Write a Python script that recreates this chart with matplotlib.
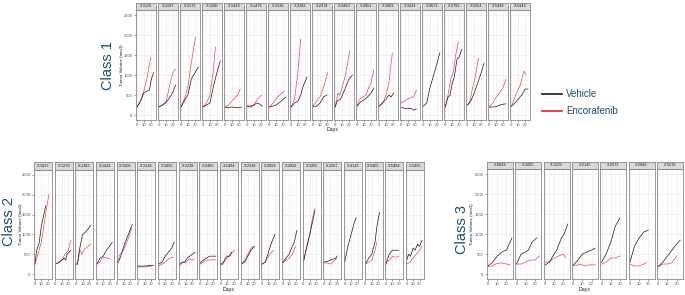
import matplotlib
matplotlib.use("Agg")
import matplotlib.pyplot as plt

plt.rcParams["font.family"] = ["Liberation Sans", "DejaVu Sans"]

# ---------------- data (days, tumor volume mm3) ----------------
class1_models = ["X-1119", "X-1187", "X-1173", "X-1290", "X-1443", "X-1476", "X-1526", "X-2182", "X-2374",
                 "X-2463", "X-2851", "X-3093", "X-3224", "X-3671", "X-3792", "X-5254", "X-5438", "X-5446"]
class1_vehicle = {
    "X-1119": ([0, 5, 10, 15, 18, 21, 24], [200, 330, 550, 600, 620, 900, 1060]),
    "X-1187": ([0, 5, 12, 18, 21, 24], [200, 250, 350, 500, 600, 750]),
    "X-1173": ([0, 8, 10, 15, 20, 25], [200, 450, 500, 900, 1050, 1200]),
    "X-1290": ([0, 5, 10, 15, 20, 25], [200, 250, 300, 700, 1050, 1350]),
    "X-1443": ([0, 5, 10, 15, 20, 24], [200, 180, 200, 190, 180, 200]),
    "X-1476": ([0, 5, 10, 14, 18, 22], [220, 200, 250, 300, 280, 220]),
    "X-1526": ([0, 5, 10, 14, 18, 24], [200, 220, 250, 300, 350, 450]),
    "X-2182": ([0, 5, 10, 14, 17, 23], [200, 300, 350, 500, 700, 950]),
    "X-2374": ([0, 5, 10, 15, 20], [220, 220, 300, 450, 500]),
    "X-2463": ([0, 3, 8, 13, 20, 25], [200, 350, 400, 600, 900, 1000]),
    "X-2851": ([0, 5, 10, 15, 20, 24], [225, 330, 380, 450, 550, 670]),
    "X-3093": ([0, 5, 10, 14, 17, 21], [225, 300, 400, 500, 450, 550]),
    "X-3224": ([0, 5, 10, 15, 18, 22], [190, 170, 160, 160, 120, 150]),
    "X-3671": ([0, 5, 10, 15, 20, 24], [225, 300, 700, 1000, 1300, 1560]),
    "X-3792": ([0, 4, 7, 10, 13, 17, 20, 24], [200, 450, 500, 800, 950, 1400, 1450, 1650]),
    "X-5254": ([0, 5, 10, 15, 20, 24], [250, 350, 550, 800, 1050, 1290]),
    "X-5438": ([0, 5, 10, 15, 20, 24], [200, 200, 210, 250, 270, 280]),
    "X-5446": ([0, 5, 10, 15, 20, 24], [220, 300, 400, 500, 650, 650]),
}
class1_encorafenib = {
    "X-1119": ([0, 5, 10, 15, 20], [200, 350, 600, 950, 1450]),
    "X-1187": ([0, 5, 10, 15, 20, 24], [200, 250, 300, 700, 1050, 1150]),
    "X-1173": ([0, 5, 10, 15, 21], [200, 400, 700, 1300, 1950]),
    "X-1290": ([0, 5, 10, 15, 18], [200, 300, 500, 1100, 1700]),
    "X-1443": ([0, 5, 10, 15, 18, 22], [200, 250, 350, 450, 480, 650]),
    "X-1476": ([0, 5, 10, 15, 18, 21], [230, 230, 250, 400, 450, 500]),
    "X-1526": ([0, 6, 12, 17, 22], [200, 300, 450, 520, 600]),
    "X-2182": ([0, 5, 10, 14], [200, 400, 1100, 1900]),
    "X-2374": ([0, 5, 10, 15, 21], [220, 350, 450, 700, 1050]),
    "X-2463": ([0, 4, 7, 10, 15, 21], [200, 550, 500, 700, 1000, 1600]),
    "X-2851": ([0, 3, 8, 13, 17, 20, 24], [225, 380, 450, 500, 700, 800, 1120]),
    "X-3093": ([0, 5, 10, 14, 17, 19], [225, 300, 500, 800, 1250, 1550]),
    "X-3224": ([0, 5, 10, 15, 18, 22], [300, 350, 400, 450, 450, 625]),
    "X-3671": ([], []),
    "X-3792": ([0, 4, 8, 12, 15, 19], [200, 500, 900, 1100, 1500, 1830]),
    "X-5254": ([0, 3, 8, 12, 16], [250, 300, 700, 1000, 1420]),
    "X-5438": ([0, 5, 10, 15, 20, 24], [200, 300, 450, 550, 700, 890]),
    "X-5446": ([0, 5, 10, 13, 18, 21], [220, 450, 650, 750, 1100, 1015]),
}

class2_models = ["X-1027", "X-1276", "X-1383", "X-1441", "X-1506", "X-1538", "X-1855", "X-2239", "X-2483",
                 "X-2484", "X-2538", "X-2659", "X-2822", "X-3205", "X-3267", "X-4145", "X-5405", "X-5494",
                 "X-5495"]
class2_vehicle = {
    "X-1027": ([0, 3, 7, 10, 14, 17], [250, 600, 800, 1200, 1500, 1720]),
    "X-1276": ([0, 5, 10, 14, 16, 18, 21, 24], [270, 280, 350, 400, 350, 500, 550, 600]),
    "X-1383": ([0, 2, 5, 10, 14, 17, 23], [250, 250, 600, 1000, 1050, 1100, 1233]),
    "X-1441": ([0, 5, 10, 15, 20, 24], [250, 400, 450, 600, 700, 800]),
    "X-1506": ([0, 4, 8, 12, 17, 23], [250, 400, 600, 800, 1000, 1250]),
    "X-1538": ([0, 8, 16, 24], [200, 200, 210, 220]),
    "X-1855": ([0, 5, 10, 15, 20, 24], [250, 300, 450, 550, 650, 800]),
    "X-2239": ([0, 5, 8, 12, 16, 20, 24], [250, 300, 300, 400, 450, 500, 550]),
    "X-2483": ([0, 5, 10, 15, 24], [280, 350, 400, 450, 450]),
    "X-2484": ([0, 3, 7, 10, 14, 17], [250, 250, 400, 450, 450, 550]),
    "X-2538": ([0, 5, 10, 15, 20], [250, 300, 450, 600, 700]),
    "X-2659": ([0, 5, 10, 15, 20], [250, 300, 550, 800, 1000]),
    "X-2822": ([0, 5, 10, 15, 18, 22], [300, 400, 500, 700, 800, 1100]),
    "X-3205": ([0, 5, 10, 14, 18], [300, 650, 1000, 1300, 1600]),
    "X-3267": ([0, 5, 10, 15, 18, 20], [300, 320, 350, 380, 400, 450]),
    "X-4145": ([0, 5, 10, 15, 18], [300, 700, 1000, 1300, 1420]),
    "X-5405": ([0, 5, 10, 15, 18, 22], [250, 400, 500, 800, 1200, 1550]),
    "X-5494": ([0, 5, 10, 15, 20], [250, 500, 600, 600, 600]),
    "X-5495": ([0, 3, 6, 10, 13, 17, 20, 24], [350, 500, 450, 650, 600, 750, 700, 850]),
}
class2_encorafenib = {
    "X-1027": ([0, 5, 10, 15, 18, 22], [250, 500, 800, 1300, 1650, 2000]),
    "X-1276": ([0, 5, 10, 15, 20, 24], [250, 300, 350, 500, 600, 855]),
    "X-1383": ([0, 2, 6, 9, 12, 18, 23], [250, 250, 600, 500, 600, 700, 750]),
    "X-1441": ([0, 5, 8, 12, 17, 21], [250, 300, 400, 420, 400, 380]),
    "X-1506": ([0, 4, 8, 12, 17, 22], [300, 500, 550, 700, 900, 1150]),
    "X-1538": ([0, 10, 20], [180, 180, 190]),
    "X-1855": ([0, 5, 10, 15, 20, 23], [200, 250, 300, 380, 420, 430]),
    "X-2239": ([0, 5, 9, 13, 17, 20, 23], [200, 300, 280, 350, 380, 350, 380]),
    "X-2483": ([0, 10, 24], [250, 350, 360]),
    "X-2484": ([0, 5, 10, 15, 22], [250, 300, 400, 500, 600]),
    "X-2538": ([0, 5, 10, 15, 18], [250, 350, 500, 650, 700]),
    "X-2659": ([0, 5, 10, 15, 18], [250, 300, 450, 550, 600]),
    "X-2822": ([0, 5, 10, 15, 20], [280, 350, 400, 500, 700]),
    "X-3205": ([0, 5, 10, 14, 18], [300, 700, 1000, 1400, 1650]),
    "X-3267": ([0, 5, 10, 15, 20], [280, 280, 250, 320, 400]),
    "X-4145": ([], []),
    "X-5405": ([0, 5, 10, 15, 18], [250, 300, 350, 600, 800]),
    "X-5494": ([0, 5, 10, 15, 20], [300, 350, 450, 420, 450]),
    "X-5495": ([0, 5, 10, 15, 20, 24], [250, 300, 400, 500, 600, 700]),
}

class3_models = ["X-0833", "X-1095", "X-1529", "X-2145", "X-2573", "X-2846", "X-5576"]
class3_vehicle = {
    "X-0833": ([0, 5, 10, 15, 20, 23, 26], [200, 300, 450, 550, 600, 750, 900]),
    "X-1095": ([0, 5, 10, 13, 17, 22], [250, 500, 550, 600, 800, 900]),
    "X-1529": ([0, 5, 10, 13, 18, 21, 25], [220, 300, 500, 600, 900, 1000, 1250]),
    "X-2145": ([0, 5, 10, 15, 20, 24], [220, 350, 500, 550, 600, 650]),
    "X-2573": ([0, 5, 10, 15, 20], [300, 500, 800, 1200, 1400]),
    "X-2846": ([0, 5, 10, 15, 20], [300, 700, 900, 1050, 1100]),
    "X-5576": ([0, 5, 10, 15, 20, 24], [180, 300, 450, 600, 750, 850]),
}
class3_encorafenib = {
    "X-0833": ([0, 3, 8, 14, 20, 24], [200, 180, 250, 280, 250, 230]),
    "X-1095": ([0, 5, 10, 15, 20, 25], [250, 250, 300, 350, 350, 450]),
    "X-1529": ([0, 5, 10, 15, 20, 23], [300, 300, 400, 450, 500, 400]),
    "X-2145": ([0, 4, 8, 12, 18, 24], [220, 220, 250, 200, 230, 230]),
    "X-2573": ([0, 5, 10, 15, 20], [250, 300, 400, 400, 450]),
    "X-2846": ([0, 5, 10, 15, 18], [250, 200, 200, 250, 300]),
    "X-5576": ([0, 5, 10, 15, 20], [200, 250, 250, 280, 450]),
}

yticks = [0, 500, 1000, 1500, 2000, 2500]
xticks = [0, 10, 20]
legend_labels = ["Vehicle", "Encorafenib"]
class_titles = ["Class 1", "Class 2", "Class 3"]

# ---------------- drawing ----------------
W, H = 685, 295
fig = plt.figure(figsize=(W / 100, H / 100), dpi=100)

VEH_COLOR = "#1a1a1a"
ENC_COLOR = "#f0484e"
TXT = "#1d4f6e"
GRID = "#ebebeb"
BORDER = "#8a8a8a"


def add_ax(x0, y0, w, h):
    return fig.add_axes([x0 / W, 1 - (y0 + h) / H, w / W, h / H])


def draw_group(models, veh, enc, left, right, strip_top, strip_h, plot_bottom, gap,
               ylabel_x, days_y):
    n = len(models)
    pw = (right - left + gap) / n - gap
    plot_top = strip_top + strip_h
    ph = plot_bottom - plot_top
    for i, m in enumerate(models):
        x0 = left + i * (pw + gap)
        ax = add_ax(x0, plot_top, pw, ph)
        ax.set_xlim(-1.3, 27)
        ax.set_ylim(-125, 2630)
        ax.set_xticks(xticks)
        ax.set_xticks([5, 15, 25], minor=True)
        ax.set_yticks(yticks)
        ax.set_yticks([250, 750, 1250, 1750, 2250], minor=True)
        ax.grid(True, which="major", color=GRID, lw=0.5)
        ax.grid(True, which="minor", color="#f5f5f5", lw=0.3)
        ax.set_axisbelow(True)
        for s in ax.spines.values():
            s.set_color(BORDER)
            s.set_linewidth(0.6)
        ax.tick_params(which="major", length=1.5, width=0.4, color="#555555",
                       labelsize=3, labelcolor="#4d4d4d", pad=1)
        ax.tick_params(which="minor", length=0)
        if i != 0:
            ax.tick_params(axis="y", labelleft=False, length=0)
        dv, vv = veh[m]
        de, ve = enc[m]
        if de:
            ax.plot(de, ve, color=ENC_COLOR, lw=0.5)
        if dv:
            ax.plot(dv, vv, color=VEH_COLOR, lw=0.5)
        sax = add_ax(x0, strip_top, pw, strip_h)
        sax.set_facecolor("#d9d9d9")
        sax.set_xticks([])
        sax.set_yticks([])
        for s in sax.spines.values():
            s.set_color(BORDER)
            s.set_linewidth(0.6)
        sax.text(0.5, 0.5, m, ha="center", va="center", fontsize=2.8, color="#1a1a1a",
                 transform=sax.transAxes)
    fig.text(ylabel_x / W, 1 - (plot_top + ph / 2) / H, "Tumor Volume (mm3)", rotation=90,
             ha="center", va="center", fontsize=3.2, color="#1a1a1a")
    fig.text((left + right) / 2 / W, 1 - days_y / H, "Days", ha="center", va="center",
             fontsize=3.8, color="#1a1a1a")


draw_group(class1_models, class1_vehicle, class1_encorafenib, 136, 530, 2.7, 7.3, 120, 2.5, 122, 129)
draw_group(class2_models, class2_vehicle, class2_encorafenib, 34, 424, 162.3, 7.4, 279, 2.5, 21, 289)
draw_group(class3_models, class3_vehicle, class3_encorafenib, 487, 683, 161.7, 7.3, 279, 2.5, 472, 289)

# class titles
for (cx, cy), t in zip([(108, 65), (9, 221), (462, 229)], class_titles):
    fig.text(cx / W, 1 - cy / H, t, rotation=90, ha="center", va="center", fontsize=10.5, color=TXT)

# legend
for (ly, lab, col) in [(94, legend_labels[0], VEH_COLOR), (111.5, legend_labels[1], "#ee1c24")]:
    fig.add_artist(plt.Line2D([542 / W, 562 / W], [1 - ly / H, 1 - ly / H], color=col, lw=1.2))
    fig.text(566 / W, 1 - ly / H, lab, ha="left", va="center", fontsize=7, color=TXT)

fig.savefig("out.png", dpi=100, facecolor="white")
